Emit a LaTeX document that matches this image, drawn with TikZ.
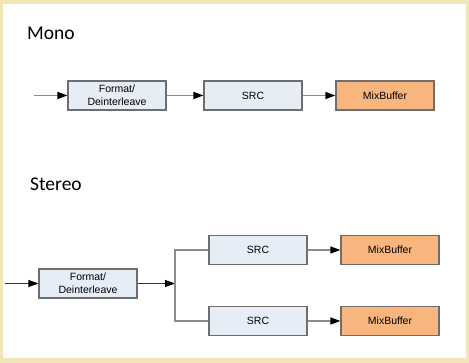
\documentclass[tikz,border=0pt]{standalone}
\usepackage{fontspec}
\setmainfont{Liberation Sans}
\newfontfamily\titlefont{Carlito}
\usetikzlibrary{arrows.meta}
\definecolor{framebg}{HTML}{F2E6B4}
\definecolor{boxblue}{HTML}{E6EDF7}
\definecolor{boxorange}{HTML}{F8B67E}
\definecolor{boxline}{HTML}{6E6E6E}
\definecolor{wire}{HTML}{8C8C8C}
\begin{document}
\begin{tikzpicture}[x=1pt,y=-1pt,
  blockbox/.style={draw=boxline,line width=1.2pt,fill=boxblue,minimum width=98pt,minimum height=29pt,
    inner sep=0pt,align=center,font=\fontsize{10.5}{13}\selectfont},
  mixbox/.style={blockbox,fill=boxorange},
  title/.style={anchor=west,inner sep=0pt,font=\titlefont\fontsize{19.5}{22}\selectfont},
  flow/.style={draw=wire,line width=1.4pt,-{Triangle[length=10pt,width=7pt,fill=black,color=black]}},
  darkflow/.style={flow,draw=black!80,line width=1pt},
  branch/.style={draw=wire,line width=1.4pt}]
  % frame and page
  \useasboundingbox (0,0) rectangle (469,363);
  \fill[framebg] (0,0) rectangle (469,363);
  \fill[white] (3,4) rectangle (466,358);

  % mono chain
  \node[title] (monotitle) at (27,33) {Mono};
  \coordinate (monoin) at (34,95.5);
  \node[blockbox] (fmt1) at (117,95.5) {Format/\\Deinterleave};
  \node[blockbox] (src1) at (253,95.5) {SRC};
  \node[mixbox] (mix1) at (385,95.5) {MixBuffer};
  \draw[flow] (monoin) -- (fmt1);
  \draw[flow] (fmt1) -- (src1);
  \draw[flow] (src1) -- (mix1);

  % stereo chain
  \node[title] (sttitle) at (30,184) {Stereo};
  \coordinate (stin) at (5,283.5);
  \node[blockbox] (fmt2) at (88,283.5) {Format/\\Deinterleave};
  \coordinate (split) at (175,283.5);
  \coordinate (splittop) at (175,250);
  \coordinate (splitbot) at (175,321);
  \node[blockbox] (src2a) at (258,250) {SRC};
  \node[blockbox] (src2b) at (258,321) {SRC};
  \node[mixbox] (mix2a) at (390,250) {MixBuffer};
  \node[mixbox] (mix2b) at (390,321) {MixBuffer};
  \draw[darkflow] (stin) -- (fmt2);
  \draw[darkflow] (fmt2) -- (split);
  \draw[branch] (src2a.west) -- (splittop) -- (splitbot) -- (src2b.west);
  \draw[flow] (src2a) -- (mix2a);
  \draw[flow] (src2b) -- (mix2b);
\end{tikzpicture}
\end{document}
